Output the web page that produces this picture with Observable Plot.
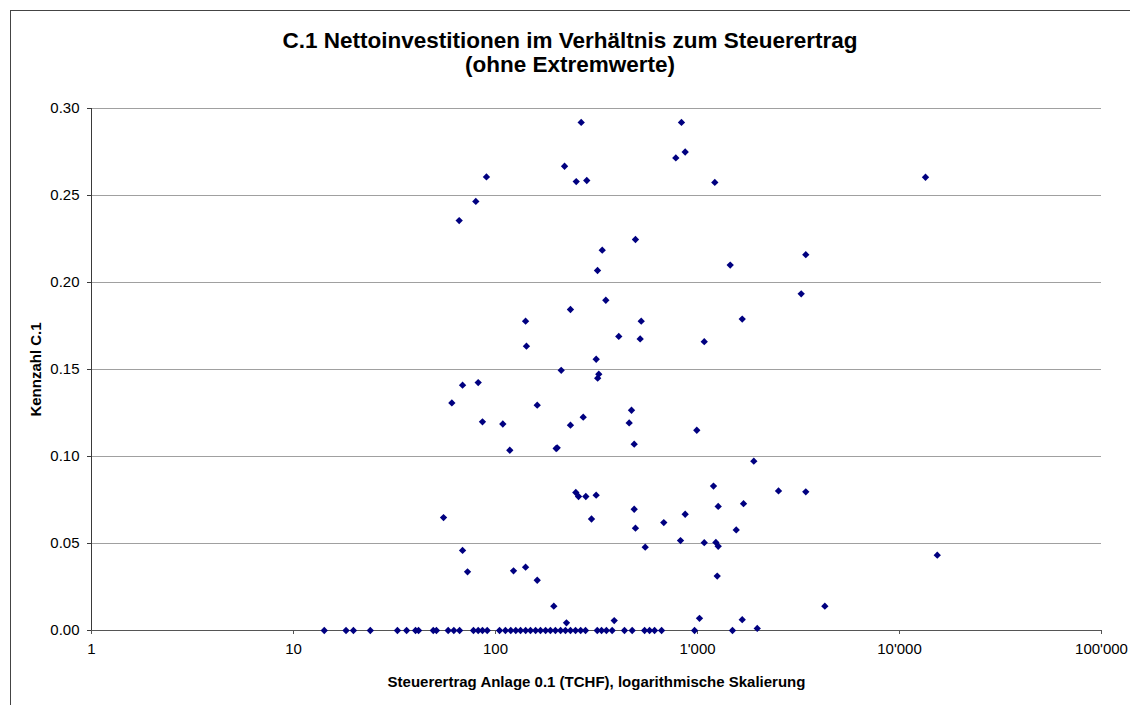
<!DOCTYPE html>
<html>
<head>
<meta charset="utf-8">
<script src="https://cdn.jsdelivr.net/npm/d3@7"></script>
<script src="https://cdn.jsdelivr.net/npm/@observablehq/plot@0.6"></script>
<style>
  html, body { margin: 0; padding: 0; background: #fff; }
  #wrap { position: relative; width: 1130px; height: 705px; overflow: hidden; font-family: "Liberation Sans", Arial, sans-serif; }
  #border { position: absolute; left: 10px; top: 10px; width: 1300px; height: 900px; border-left: 1px solid #444; border-top: 1px solid #444; }
  #title { position: absolute; left: 10px; width: 1120px; top: 29px; text-align: center; font-weight: bold; font-size: 22.5px; line-height: 24px; color: #000; }
  #chart { position: absolute; left: 0; top: 0; }
  #chart svg g[aria-label="x-axis label"] text,
  #chart svg g[aria-label="y-axis label"] text { font-weight: bold; font-size: 15px; }
</style>
</head>
<body>
<div id="wrap">
  <div id="border"></div>
  <div id="chart"></div>
  <div id="title">C.1 Nettoinvestitionen im Verhältnis zum Steuerertrag<br>(ohne Extremwerte)</div>
</div>
<script>
// Steuerertrag (TCHF) for municipalities with Kennzahl C.1 = 0
const zeroSteuerertrag = [14.2, 18.2, 19.8, 24.0, 32.7, 36.3, 40.2, 41.6, 49.2, 51.0, 58.3, 62.2, 66.4,
  77.8, 82.1, 86.2, 91.0, 104.7, 112, 119, 126, 133, 141, 149, 158, 167, 177, 187, 198, 210, 222,
  235, 249, 264, 279, 319, 335, 354, 378, 435, 475, 547, 579, 613, 664, 967, 1490];

// Steuerertrag (TCHF) and Kennzahl C.1 for the remaining municipalities
const steuerertrag = [265.6, 833, 869, 781, 219.7, 90.2, 251, 283, 1218, 13450, 79.9, 66.1, 493, 337.6,
  3436, 1452, 319.9, 3261, 351.7, 235, 1665, 140.9, 526.5, 407.6, 520.3, 1080, 142.3, 315.1, 211.5,
  324.6, 320.5, 68.7, 82.1, 60.8, 160.9, 471.3, 86.2, 108.7, 459, 271.8, 235, 992, 117.7, 199.7, 202,
  486, 1900, 1200, 2518, 3436, 249.8, 257.6, 280, 315, 1266, 1690, 869, 55.3, 298.7, 486, 681, 1555,
  493, 824, 1080, 1233, 1266, 551, 68.7, 15380, 72.7, 122.8, 140.9, 160.9, 1252, 4270, 194.4, 224.6,
  387, 1023, 1665, 1976];
const kennzahl = [0.292, 0.292, 0.275, 0.2716, 0.2668, 0.2607, 0.258, 0.2586, 0.2575, 0.2605, 0.2466,
  0.2356, 0.2247, 0.2186, 0.216, 0.21, 0.2069, 0.1935, 0.1898, 0.1845, 0.179, 0.1778, 0.1778, 0.169,
  0.1676, 0.166, 0.1634, 0.1559, 0.1495, 0.1473, 0.145, 0.141, 0.1425, 0.1308, 0.1295, 0.1266, 0.1199,
  0.1187, 0.1193, 0.1226, 0.118, 0.1151, 0.1036, 0.1046, 0.105, 0.1071, 0.0973, 0.083, 0.0802, 0.0797,
  0.0793, 0.077, 0.077, 0.0778, 0.0713, 0.0729, 0.0668, 0.0649, 0.0641, 0.0697, 0.062, 0.0578, 0.0588,
  0.0517, 0.0505, 0.0506, 0.0484, 0.0479, 0.046, 0.0433, 0.0337, 0.0343, 0.0364, 0.0289, 0.0313,
  0.014, 0.014, 0.0044, 0.0057, 0.007, 0.0062, 0.0012];

const xTicks = [1, 10, 100, 1000, 10000, 100000];
const yTicks = [0, 0.05, 0.10, 0.15, 0.20, 0.25, 0.30];

const data = [
  ...zeroSteuerertrag.map(x => ({x, y: 0})),
  ...steuerertrag.map((x, i) => ({x, y: kennzahl[i]}))
];

const ch = d3.formatLocale({decimal: ".", thousands: "'", grouping: [3], currency: ["", ""]});
const fmtX = ch.format(",d");

const chart = Plot.plot({
  width: 1130,
  height: 705,
  marginLeft: 91,
  marginRight: 29,
  marginTop: 108,
  marginBottom: 75,
  style: {fontFamily: "'Liberation Sans', Arial, sans-serif", fontSize: "15px", color: "#000", background: "transparent", overflow: "visible"},
  x: {type: "log", domain: [1, 100000]},
  y: {domain: [0, 0.30]},
  marks: [
    Plot.gridY(yTicks.filter(d => d > 0), {stroke: "#a0a0a0", strokeOpacity: 1, strokeWidth: 1}),
    Plot.ruleX([1], {y1: 0, y2: 0.30, stroke: "#3a3a3a"}),
    Plot.ruleY([0], {stroke: "#555"}),
    Plot.axisX({ticks: xTicks, tickFormat: fmtX, tickSize: 4, tickPadding: 9, stroke: "#555",
      label: "Steuerertrag Anlage 0.1 (TCHF), logarithmische Skalierung", labelAnchor: "center", labelArrow: "none", labelOffset: 56}),
    Plot.axisY({ticks: yTicks, tickFormat: d3.format(".2f"), tickSize: 4, tickPadding: 8, stroke: "#3a3a3a",
      label: "Kennzahl C.1", labelAnchor: "center", labelArrow: "none", labelOffset: 61}),
    Plot.dot(data, {x: "x", y: "y", symbol: "diamond2", r: 3.3, fill: "#000080", stroke: "none"})
  ]
});
document.getElementById("chart").appendChild(chart);
</script>
</body>
</html>
